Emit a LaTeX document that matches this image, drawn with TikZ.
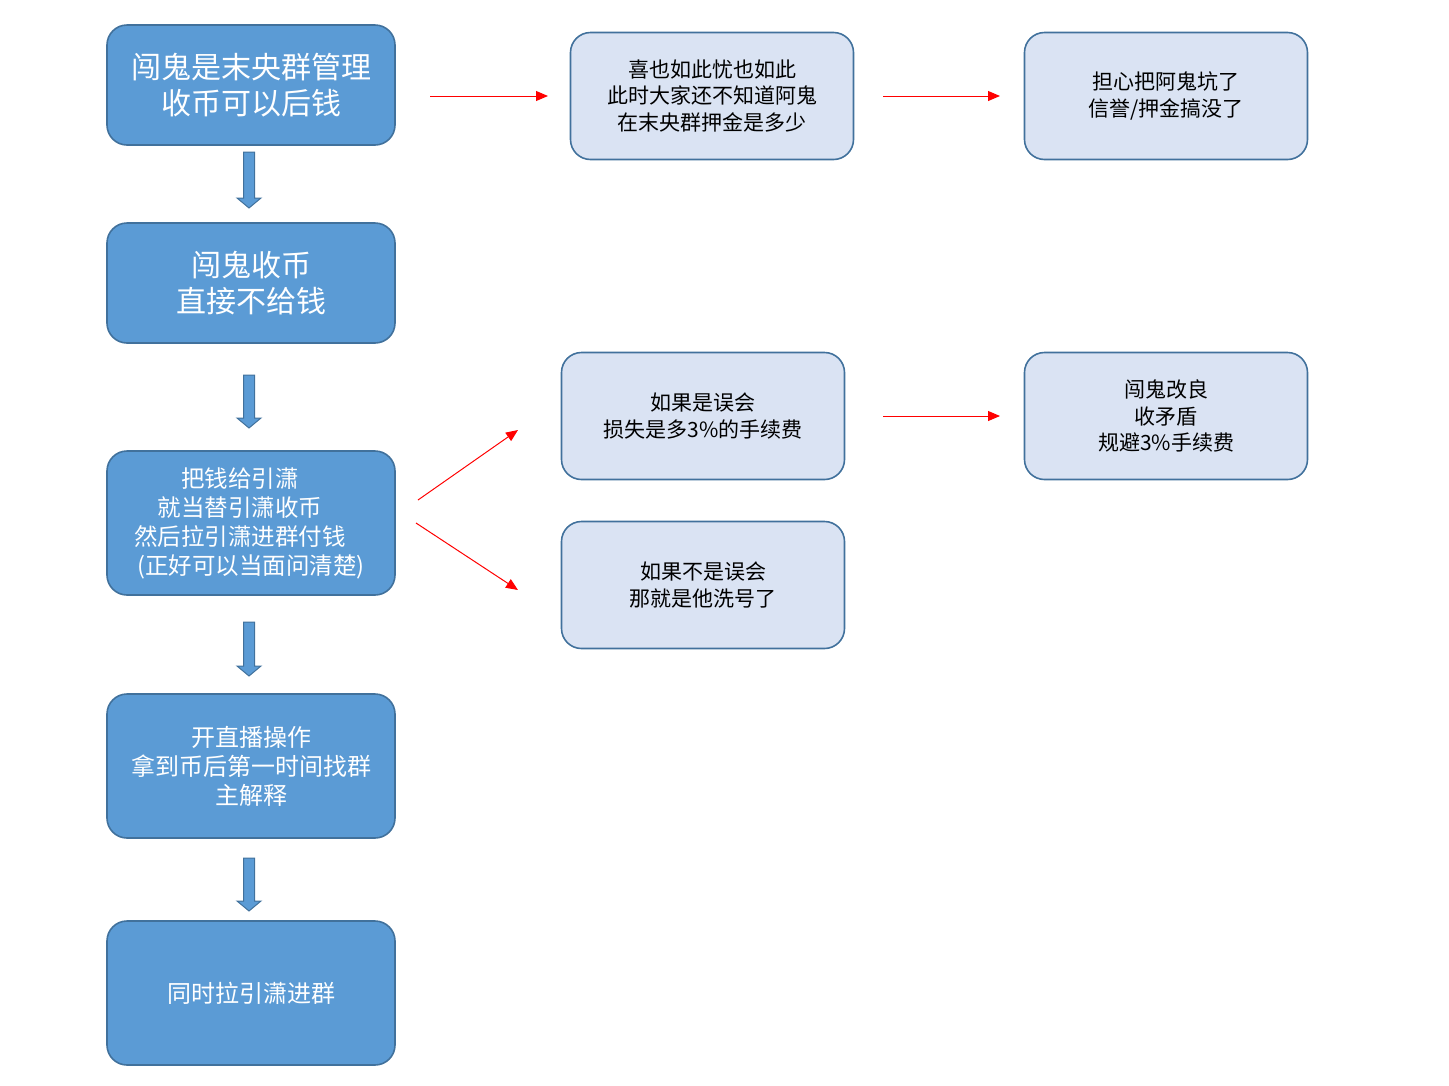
\documentclass[tikz,border=0pt]{standalone}
\usepackage{fontspec}
\setmainfont{Noto Sans CJK SC}
\usetikzlibrary{arrows.meta,calc}
\definecolor{darkfill}{HTML}{5B9BD5}
\definecolor{boxedge}{HTML}{41719C}
\definecolor{lightfill}{HTML}{DAE3F3}
\begin{document}
\begin{tikzpicture}[x=1pt,y=-1pt,
  darkbox/.style={draw=boxedge, line width=1.6pt, fill=darkfill, rounded corners=20pt,
    minimum width=288pt, text=white, align=center, inner sep=0pt},
  lightbox/.style={draw=boxedge, line width=1.6pt, fill=lightfill, rounded corners=20pt,
    minimum width=283pt, minimum height=127pt, text=black, align=center, inner sep=0pt,
    font=\fontsize{21}{26.5}\selectfont},
  redarrow/.style={draw=red, line width=1pt, -{Triangle[length=12pt,width=10pt]}},
  blockarrow/.style={fill=darkfill, draw=boxedge, line width=1pt}
]
\useasboundingbox (0,0) rectangle (1449,1085);

\node[darkbox, minimum height=120pt, font=\fontsize{30}{36}\selectfont] (A) at (251,85) {闯鬼是末央群管理\\收币可以后钱};
\node[darkbox, minimum height=120pt, font=\fontsize{30}{36}\selectfont] (B) at (251,283) {闯鬼收币\\直接不给钱};
\node[darkbox, minimum height=144pt, font=\fontsize{23.5}{29}\selectfont] (C) at (251,523) {\mbox{把钱给引潇\kern22pt}\\\mbox{就当替引潇收币\kern22pt}\\\mbox{然后拉引潇进群付钱\kern22pt}\\(正好可以当面问清楚)};
\node[darkbox, minimum height=144pt, font=\fontsize{24}{29}\selectfont] (D) at (251,766) {开直播操作\\拿到币后第一时间找群\\主解释};
\node[darkbox, minimum height=144pt, font=\fontsize{24}{29}\selectfont] (E) at (251,993) {同时拉引潇进群};

\node[lightbox] (L1) at (712,96) {喜也如此忧也如此\\此时大家还不知道阿鬼\\在末央群押金是多少};
\node[lightbox] (L2) at (1166,96) {担心把阿鬼坑了\\信誉/押金搞没了};
\node[lightbox] (L3) at (703,416) {如果是误会\\损失是多3\%的手续费};
\node[lightbox] (L4) at (1166,416) {闯鬼改良\\收矛盾\\规避3\%手续费};
\node[lightbox] (L5) at (703,585) {如果不是误会\\那就是他洗号了};

% red arrows
\coordinate (a1s) at (430,96);  \coordinate (a1e) at (548,96);
\coordinate (a2s) at (883,96);  \coordinate (a2e) at (1000,96);
\coordinate (a3s) at (883,416); \coordinate (a3e) at (1000,416);
\coordinate (a4s) at (418,500); \coordinate (a4e) at (518,430);
\coordinate (a5s) at (416,523); \coordinate (a5e) at (518,590);
\draw[redarrow] (a1s) -- (a1e);
\draw[redarrow] (a2s) -- (a2e);
\draw[redarrow] (a3s) -- (a3e);
\draw[redarrow] (a4s) -- (a4e);
\draw[redarrow] (a5s) -- (a5e);

% block arrows
\foreach \t/\b in {152/208, 375/428, 622/676, 858/911}{
  \path[blockarrow] (243.5,\t) -- (254.5,\t) -- (254.5,\b-10) -- (261,\b-10) -- (249,\b) -- (237,\b-10) -- (243.5,\b-10) -- cycle;
}
\end{tikzpicture}
\end{document}
